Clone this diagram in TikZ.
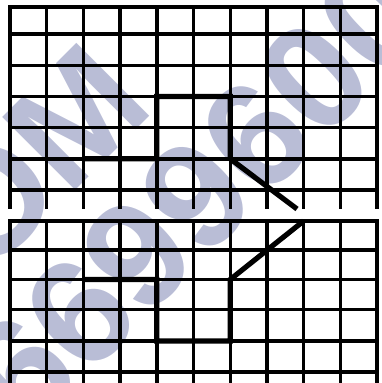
\documentclass[tikz,border=0pt]{standalone}
\usepackage{fontspec}
\newfontfamily\wmfont{Liberation Sans}
\definecolor{wmblue}{RGB}{185,189,214}
\tikzset{
  gridline/.style={line width=3.4pt},
  pathline/.style={line width=5.2pt, line join=miter},
  wmark/.style={text=wmblue, font=\wmfont\bfseries\fontsize{150}{150}\selectfont, rotate=45, inner sep=0pt}
}
\begin{document}
\begin{tikzpicture}[x=1pt,y=-1pt]
                \useasboundingbox (0,0) rectangle (382,383);
                 % watermark
                 \node[wmark, anchor=east] (wmtop) at (120,72) {COM};
                 \node[wmark] (wmbot) at (197,195) {6699600};
                 % upper grid
                 \foreach \x in {10,46.7,83.4,120.1,156.8,193.5,230.2,266.9,303.6,340.3,377}
                   \draw[gridline] (\x,7) -- (\x,209);
                 \foreach \y in {7,34,65.2,96.4,127.6,158.8,190}
                   \draw[gridline] (8.3,\y) -- (378.7,\y);
                 % lower grid
                 \foreach \x in {10,46.7,83.4,120.1,156.8,193.5,230.2,266.9,303.6,340.3,377}
                   \draw[gridline] (\x,221) -- (\x,384);
                 \foreach \y in {221,250,279.5,309.5,341,372}
                   \draw[gridline] (8.3,\y) -- (378.7,\y);
                 % thick paths
                 \draw[pathline] (83.4,158.8) -- (156.8,158.8) -- (156.8,96.4) -- (230.2,96.4) -- (230.2,158.8) -- (297,209);
                 \draw[pathline] (83.4,279.5) -- (156.8,279.5) -- (156.8,341) -- (230.2,341) -- (230.2,279.5) -- (303.6,221);
            \end{tikzpicture}
\end{document}
